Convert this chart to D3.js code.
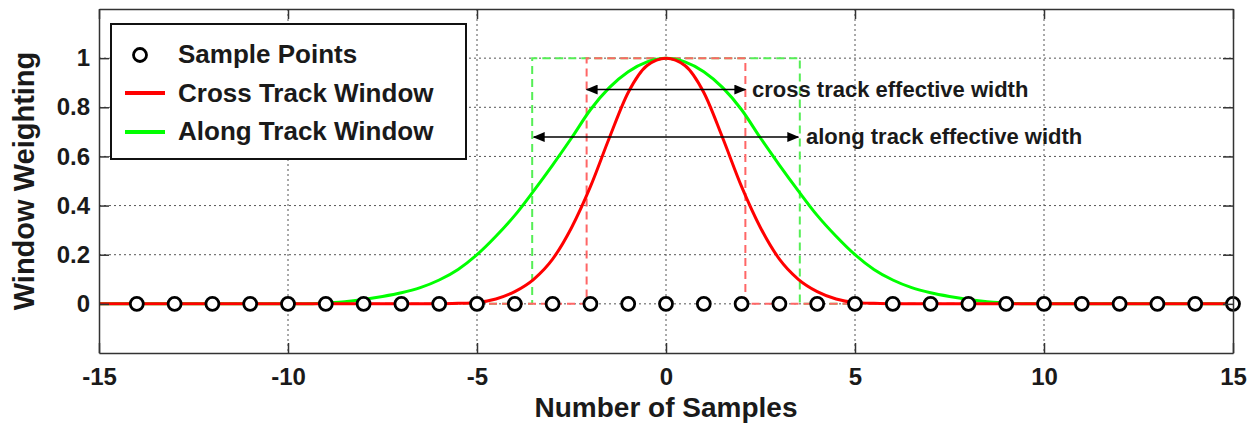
<!DOCTYPE html>
<html>
<head>
<meta charset="utf-8">
<script src="https://cdn.jsdelivr.net/npm/d3@7"></script>
<style>
  body { margin: 0; background: #fff; }
  svg { font-family: "Liberation Sans", Arial, sans-serif; font-weight: bold; }
</style>
</head>
<body>
<svg id="pic" width="1255" height="424"></svg>
<script>
// sample positions
var sampleX = [-14,-13,-12,-11,-10,-9,-8,-7,-6,-5,-4,-3,-2,-1,0,1,2,3,4,5,6,7,8,9,10,11,12,13,14,15];

// window curves (read at half-sample steps)
var curveX = [-15,-12,-10,-9.5,-9,-8.5,-8,-7.5,-7,-6.5,-6,-5.5,-5,-4.5,-4,-3.5,-3,-2.5,-2,-1.5,-1,-0.5,0,
              0.5,1,1.5,2,2.5,3,3.5,4,4.5,5,5.5,6,6.5,7,7.5,8,8.5,9,9.5,10,12,15];
var crossTrack = [0,0,0,0,0,0,0,0,0,0,0,0.002,0.006,0.02,0.05,0.10,0.182,0.31,0.477,0.675,0.86,0.97,1,
                  0.97,0.86,0.675,0.477,0.31,0.182,0.10,0.05,0.02,0.006,0.002,0,0,0,0,0,0,0,0,0,0,0];
var alongTrack = [0,0,0,0,0.004,0.009,0.018,0.03,0.045,0.066,0.097,0.14,0.2,0.275,0.36,0.46,0.565,0.675,0.79,0.88,0.945,0.985,1,
                  0.985,0.945,0.88,0.79,0.675,0.565,0.46,0.36,0.275,0.2,0.14,0.097,0.066,0.045,0.03,0.018,0.009,0.004,0,0,0,0];

// effective widths (half widths)
var crossHalf = 2.1;
var alongHalf = 3.54;

var xTicks = [-15,-10,-5,0,5,10,15];
var xTickLabels = ["-15","-10","-5","0","5","10","15"];
var yTicks = [0,0.2,0.4,0.6,0.8,1];
var yTickLabels = ["0","0.2","0.4","0.6","0.8","1"];

var legendLabels = ["Sample Points","Cross Track Window","Along Track Window"];

var svg = d3.select("#pic");
var mLeft = 99, mRight = 1233, mTop = 9, mBottom = 353;

var x = d3.scaleLinear().domain([-15, 15]).range([mLeft, mRight]);
var y = d3.scaleLinear().domain([-0.2, 1.2]).range([mBottom, mTop]);

// grid
var grid = svg.append("g").attr("stroke", "#555").attr("stroke-width", 1).attr("stroke-dasharray", "2,3");
grid.selectAll("line.v").data(xTicks.slice(1, -1)).enter().append("line")
  .attr("x1", function(d){return x(d);}).attr("x2", function(d){return x(d);})
  .attr("y1", mTop).attr("y2", mBottom);
grid.selectAll("line.h").data(yTicks).enter().append("line")
  .attr("y1", function(d){return y(d);}).attr("y2", function(d){return y(d);})
  .attr("x1", mLeft).attr("x2", mRight);

// dashed rectangle windows
function rectLine(half){
  return [[-15,0],[-half,0],[-half,1],[half,1],[half,0],[15,0]];
}
var line = d3.line().x(function(d){return x(d[0]);}).y(function(d){return y(d[1]);});
svg.append("path").attr("d", line(rectLine(alongHalf))).attr("fill", "none")
  .attr("stroke", "#55ee55").attr("stroke-width", 2).attr("stroke-dasharray", "8,5");
svg.append("path").attr("d", line(rectLine(crossHalf))).attr("fill", "none")
  .attr("stroke", "#ff6666").attr("stroke-width", 2).attr("stroke-dasharray", "8,5");

// window curves
var curve = d3.line().curve(d3.curveMonotoneX)
  .x(function(d){return x(d[0]);}).y(function(d){return y(d[1]);});
svg.append("path").attr("d", curve(d3.zip(curveX, alongTrack))).attr("fill", "none")
  .attr("stroke", "#00ff00").attr("stroke-width", 3);
svg.append("path").attr("d", curve(d3.zip(curveX, crossTrack))).attr("fill", "none")
  .attr("stroke", "#ff0000").attr("stroke-width", 3);

// sample points
svg.selectAll("circle.s").data(sampleX).enter().append("circle")
  .attr("cx", function(d){return x(d);}).attr("cy", y(0)).attr("r", 6.5)
  .attr("fill", "#fff").attr("stroke", "#000").attr("stroke-width", 2.8);

// axes
var xAxis = d3.axisBottom(x).tickValues(xTicks).tickFormat(function(d, i){return xTickLabels[i];})
  .tickSizeInner(-10).tickSizeOuter(0).tickPadding(15);
var yAxis = d3.axisLeft(y).tickValues(yTicks).tickFormat(function(d, i){return yTickLabels[i];})
  .tickSizeInner(-10).tickSizeOuter(0).tickPadding(9);
svg.append("g").attr("transform", "translate(0," + mBottom + ")").call(xAxis);
svg.append("g").attr("transform", "translate(" + mLeft + ",0)").call(yAxis);
svg.append("g").attr("transform", "translate(0," + mTop + ")")
  .call(d3.axisTop(x).tickValues(xTicks).tickSizeInner(-10).tickSizeOuter(0).tickFormat(""));
svg.append("g").attr("transform", "translate(" + mRight + ",0)")
  .call(d3.axisRight(y).tickValues(yTicks).tickSizeInner(-10).tickSizeOuter(0).tickFormat(""));
svg.selectAll(".domain").attr("stroke", "#333").attr("stroke-width", 1.5);
svg.selectAll(".tick line").attr("stroke", "#333").attr("stroke-width", 1.5);
svg.selectAll(".tick text").attr("font-size", 24).attr("font-family", "Liberation Sans, Arial, sans-serif")
  .attr("font-weight", "bold").attr("fill", "#1a1a1a");

// axis titles
svg.append("text").attr("x", (mLeft + mRight) / 2).attr("y", 417).attr("text-anchor", "middle")
  .attr("font-size", 28).attr("fill", "#1a1a1a").text("Number of Samples");
svg.append("text").attr("transform", "translate(34," + ((mTop + mBottom) / 2) + ") rotate(-90)")
  .attr("text-anchor", "middle").attr("font-size", 29).attr("fill", "#1a1a1a").text("Window Weighting");

// arrows
var defs = svg.append("defs");
defs.append("marker").attr("id", "ah").attr("markerUnits", "userSpaceOnUse")
  .attr("markerWidth", 12).attr("markerHeight", 10).attr("viewBox", "0 0 12 10")
  .attr("refX", 11).attr("refY", 5).attr("orient", "auto-start-reverse")
  .append("path").attr("d", "M0,0L12,5L0,10Z").attr("fill", "#000");

function arrow(half, v, label, tx){
  svg.append("line").attr("x1", x(-half)).attr("x2", x(half)).attr("y1", y(v)).attr("y2", y(v))
    .attr("stroke", "#000").attr("stroke-width", 1.5)
    .attr("marker-start", "url(#ah)").attr("marker-end", "url(#ah)");
  svg.append("text").attr("x", tx).attr("y", y(v) + 7).attr("font-size", 22).attr("fill", "#1a1a1a").text(label);
}
arrow(crossHalf, 0.872, "cross track effective width", 752);
arrow(alongHalf - 0.04, 0.679, "along track effective width", 806);

// legend
var lg = svg.append("g");
lg.append("rect").attr("x", 111).attr("y", 24).attr("width", 355).attr("height", 135)
  .attr("fill", "#fff").attr("stroke", "#111").attr("stroke-width", 2);
lg.append("circle").attr("cx", 140).attr("cy", 55).attr("r", 6.5)
  .attr("fill", "#fff").attr("stroke", "#000").attr("stroke-width", 2.8);
lg.append("line").attr("x1", 125).attr("x2", 165).attr("y1", 93).attr("y2", 93)
  .attr("stroke", "#ff0000").attr("stroke-width", 4);
lg.append("line").attr("x1", 125).attr("x2", 165).attr("y1", 132).attr("y2", 132)
  .attr("stroke", "#00ff00").attr("stroke-width", 4);
lg.selectAll("text").data(legendLabels).enter().append("text")
  .attr("x", 178).attr("y", function(d, i){return 63 + i * 38.5;})
  .attr("font-size", 26).attr("fill", "#1a1a1a").text(function(d){return d;});
</script>
</body>
</html>
